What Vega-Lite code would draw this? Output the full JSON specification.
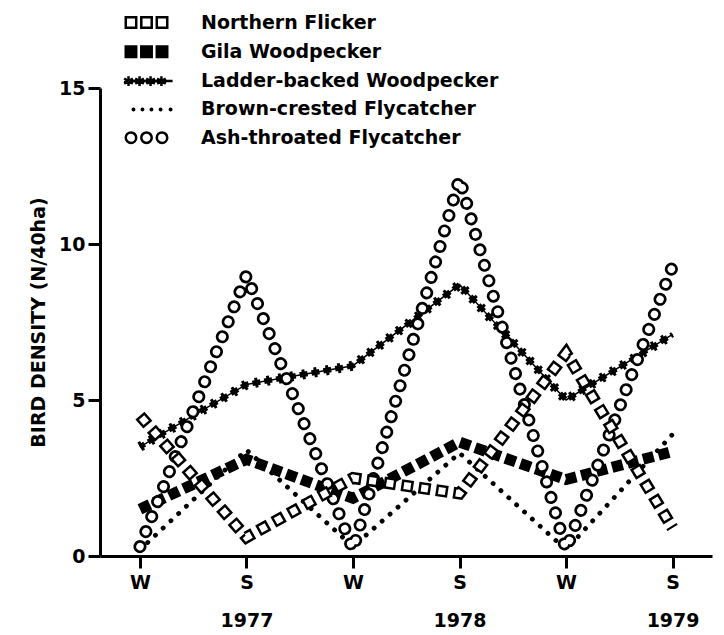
{
  "$schema": "https://vega.github.io/schema/vega-lite/v6.json",
  "width": 612,
  "height": 468,
  "autosize": "none",
  "padding": {"left": 100, "top": 88, "right": 12, "bottom": 79},
  "background": "white",
  "config": {
    "view": {"stroke": null},
    "font": "DejaVu Sans",
    "axis": {
      "grid": false,
      "domainColor": "black",
      "domainWidth": 3,
      "tickColor": "black",
      "tickWidth": 3,
      "tickSize": 12,
      "labelColor": "black",
      "labelFont": "DejaVu Sans",
      "labelFontWeight": "bold",
      "labelFontSize": 19,
      "titleColor": "black",
      "titleFont": "DejaVu Sans",
      "titleFontWeight": "bold"
    },
    "legend": {
      "orient": "none",
      "legendX": 30.5,
      "legendY": -81.5,
      "title": null,
      "padding": 0,
      "rowPadding": 2.3,
      "symbolSize": 841,
      "symbolStrokeWidth": 2.5,
      "symbolOpacity": 1,
      "labelFont": "DejaVu Sans",
      "labelFontWeight": "bold",
      "labelFontSize": 19,
      "labelColor": "black",
      "labelOffset": 38.5,
      "labelLimit": 600
    }
  },
  "data": {
    "values": [
      {"series": "Northern Flicker", "t": 0, "v": 4.5},
      {"series": "Northern Flicker", "t": 1, "v": 0.6},
      {"series": "Northern Flicker", "t": 2, "v": 2.5},
      {"series": "Northern Flicker", "t": 3, "v": 2.0},
      {"series": "Northern Flicker", "t": 4, "v": 6.5},
      {"series": "Northern Flicker", "t": 5, "v": 0.9},
      {"series": "Gila Woodpecker", "t": 0, "v": 1.5},
      {"series": "Gila Woodpecker", "t": 1, "v": 3.1},
      {"series": "Gila Woodpecker", "t": 2, "v": 1.85},
      {"series": "Gila Woodpecker", "t": 3, "v": 3.65},
      {"series": "Gila Woodpecker", "t": 4, "v": 2.45},
      {"series": "Gila Woodpecker", "t": 5, "v": 3.35},
      {"series": "Ladder-backed Woodpecker", "t": 0, "v": 3.5},
      {"series": "Ladder-backed Woodpecker", "t": 1, "v": 5.5},
      {"series": "Ladder-backed Woodpecker", "t": 2, "v": 6.1},
      {"series": "Ladder-backed Woodpecker", "t": 3, "v": 8.7},
      {"series": "Ladder-backed Woodpecker", "t": 4, "v": 5.0},
      {"series": "Ladder-backed Woodpecker", "t": 5, "v": 7.1},
      {"series": "Brown-crested Flycatcher", "t": 0, "v": 0.2},
      {"series": "Brown-crested Flycatcher", "t": 1, "v": 3.4},
      {"series": "Brown-crested Flycatcher", "t": 2, "v": 0.3},
      {"series": "Brown-crested Flycatcher", "t": 3, "v": 3.3},
      {"series": "Brown-crested Flycatcher", "t": 4, "v": 0.2},
      {"series": "Brown-crested Flycatcher", "t": 5, "v": 3.9},
      {"series": "Ash-throated Flycatcher", "t": 0, "v": 0.3},
      {"series": "Ash-throated Flycatcher", "t": 1, "v": 9.0},
      {"series": "Ash-throated Flycatcher", "t": 2, "v": 0.2},
      {"series": "Ash-throated Flycatcher", "t": 3, "v": 12.1},
      {"series": "Ash-throated Flycatcher", "t": 4, "v": 0.2},
      {"series": "Ash-throated Flycatcher", "t": 5, "v": 9.3}
    ]
  },
  "encoding": {
    "x": {
      "field": "t",
      "type": "quantitative",
      "scale": {"domain": [-0.375, 5.37], "nice": false, "zero": false},
      "axis": {
        "title": null,
        "values": [0, 1, 2, 3, 4, 5],
        "labelExpr": "[datum.value % 2 == 0 ? 'W' : 'S', datum.value == 1 ? '1977' : datum.value == 3 ? '1978' : datum.value == 5 ? '1979' : '']",
        "labelLineHeight": 38,
        "labelPadding": 5,
        "labelAngle": 0,
        "labelBaseline": "top",
        "labelOverlap": false,
        "labelFlush": false,
        "labelBound": false
      }
    },
    "y": {
      "field": "v",
      "type": "quantitative",
      "scale": {"domain": [0, 15], "nice": false},
      "axis": {
        "title": "BIRD DENSITY (N/40ha)",
        "values": [0, 5, 10, 15],
        "titleFontSize": 19,
        "titlePadding": 10,
        "labelPadding": 3
      }
    }
  },
  "layer": [
    {
      "transform": [{"filter": "datum.series == 'Brown-crested Flycatcher'"}],
      "mark": {"type": "line", "color": "black", "strokeWidth": 4.8, "strokeCap": "round", "strokeDash": [0.1, 10.5]},
      "encoding": {}
    },
    {
      "transform": [{"filter": "datum.series == 'Gila Woodpecker'"}],
      "mark": {"type": "line", "color": "black", "strokeWidth": 11, "strokeDash": [11, 5]},
      "encoding": {}
    },
    {
      "transform": [{"filter": "datum.series == 'Ladder-backed Woodpecker'"}],
      "mark": {"type": "line", "color": "black", "strokeWidth": 1.5},
      "encoding": {}
    },
    {
      "transform": [{"filter": "datum.series == 'Ladder-backed Woodpecker'"}],
      "mark": {"type": "line", "color": "black", "strokeWidth": 10, "strokeDash": [3, 9]},
      "encoding": {}
    },
    {
      "transform": [{"filter": "datum.series == 'Ladder-backed Woodpecker'"}],
      "mark": {"type": "line", "color": "black", "strokeWidth": 5.5, "strokeDash": [8, 4], "strokeDashOffset": 2.5},
      "encoding": {}
    },
    {
      "transform": [{"filter": "datum.series == 'Ash-throated Flycatcher'"}],
      "mark": {"type": "line", "color": "black", "strokeWidth": 13, "strokeCap": "round", "strokeDash": [0.1, 16]},
      "encoding": {}
    },
    {
      "transform": [{"filter": "datum.series == 'Ash-throated Flycatcher'"}],
      "mark": {"type": "line", "color": "white", "strokeWidth": 7.5, "strokeCap": "round", "strokeDash": [0.1, 16]},
      "encoding": {}
    },
    {
      "transform": [{"filter": "datum.series == 'Northern Flicker'"}],
      "mark": {"type": "line", "color": "black", "strokeWidth": 12, "strokeDash": [12, 5.5]},
      "encoding": {}
    },
    {
      "transform": [{"filter": "datum.series == 'Northern Flicker'"}],
      "mark": {"type": "line", "color": "white", "strokeWidth": 7, "strokeDash": [7, 10.5], "strokeDashOffset": -2.5},
      "encoding": {}
    },
    {
      "mark": {"type": "point", "opacity": 0, "size": 841, "strokeWidth": 2.5},
      "encoding": {
        "shape": {
          "field": "series",
          "type": "nominal",
          "scale": {
            "domain": ["Northern Flicker", "Gila Woodpecker", "Ladder-backed Woodpecker", "Brown-crested Flycatcher", "Ash-throated Flycatcher"],
            "range": [
              "M-1.43,-0.36h0.72v0.72h-0.72zM-0.36,-0.36h0.72v0.72h-0.72zM0.71,-0.36h0.72v0.72h-0.72z",
              "M-1.43,-0.36h0.72v0.72h-0.72zM-0.36,-0.36h0.72v0.72h-0.72zM0.71,-0.36h0.72v0.72h-0.72z",
              "M-1.55,0H1.8M-1.24,-0.34V0.34M-1.54,-0.17L-0.94,0.17M-1.54,0.17L-0.94,-0.17M-0.48,-0.34V0.34M-0.78,-0.17L-0.18,0.17M-0.78,0.17L-0.18,-0.17M0.28,-0.34V0.34M-0.02,-0.17L0.58,0.17M-0.02,0.17L0.58,-0.17M1.03,-0.34V0.34M0.73,-0.17L1.33,0.17M0.73,0.17L1.33,-0.17",
              "M-0.95,0a0.05,0.05 0 1,0 0.1,0a0.05,0.05 0 1,0 -0.1,0M-0.33,0a0.05,0.05 0 1,0 0.1,0a0.05,0.05 0 1,0 -0.1,0M0.29,0a0.05,0.05 0 1,0 0.1,0a0.05,0.05 0 1,0 -0.1,0M0.92,0a0.05,0.05 0 1,0 0.1,0a0.05,0.05 0 1,0 -0.1,0M1.61,0a0.05,0.05 0 1,0 0.1,0a0.05,0.05 0 1,0 -0.1,0",
              "M-1.43,0a0.36,0.36 0 1,0 0.72,0a0.36,0.36 0 1,0 -0.72,0M-0.36,0a0.36,0.36 0 1,0 0.72,0a0.36,0.36 0 1,0 -0.72,0M0.71,0a0.36,0.36 0 1,0 0.72,0a0.36,0.36 0 1,0 -0.72,0"
            ]
          }
        },
        "fill": {
          "field": "series",
          "type": "nominal",
          "scale": {
            "domain": ["Northern Flicker", "Gila Woodpecker", "Ladder-backed Woodpecker", "Brown-crested Flycatcher", "Ash-throated Flycatcher"],
            "range": ["white", "black", "black", "black", "white"]
          }
        },
        "stroke": {
          "field": "series",
          "type": "nominal",
          "scale": {
            "domain": ["Northern Flicker", "Gila Woodpecker", "Ladder-backed Woodpecker", "Brown-crested Flycatcher", "Ash-throated Flycatcher"],
            "range": ["black", "black", "black", "black", "black"]
          }
        }
      }
    }
  ]
}
